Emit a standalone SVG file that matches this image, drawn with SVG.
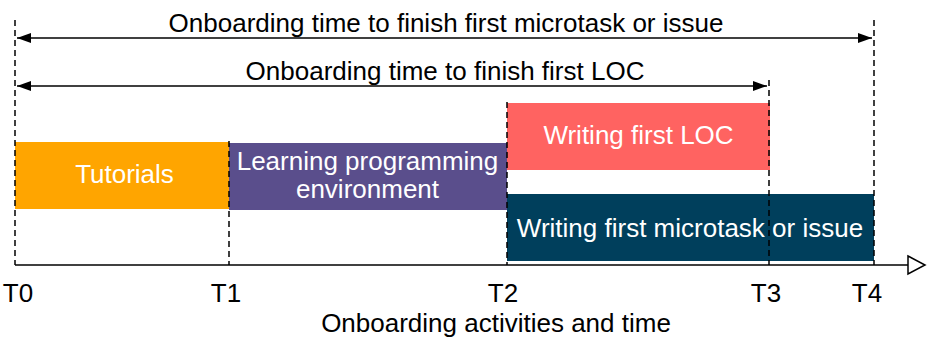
<svg xmlns="http://www.w3.org/2000/svg" width="927" height="338" viewBox="0 0 927 338">
<defs>
<marker id="ah" viewBox="0 0 14 10" refX="14" refY="5" markerWidth="14" markerHeight="10" markerUnits="userSpaceOnUse" orient="auto-start-reverse">
<path d="M0,0 L14,5 L0,10 Z" fill="#000"/>
</marker>
<style>
text{font-family:"Liberation Sans",Arial,sans-serif;font-size:26px;text-anchor:middle}
.w{fill:#fff}
.k{fill:#000}
.dash{stroke:#000;stroke-width:1.5;stroke-dasharray:6,4;fill:none}
.ln{stroke:#000;stroke-width:1.5;fill:none}
</style>
</defs>
<rect width="927" height="338" fill="#fff"/>
<g id="tutorials">
<rect x="15" y="142" width="214" height="67" fill="#FFA500"/>
<text class="w" x="124.5" y="183">Tutorials</text>
</g>
<g id="learning">
<rect x="229" y="143" width="278" height="67" fill="#5A4E8C"/>
<text class="w" x="367.5" y="170">Learning programming</text>
<text class="w" x="367.5" y="198">environment</text>
</g>
<g id="loc">
<rect x="507" y="103" width="263" height="67" fill="#FF6361"/>
<text class="w" x="638.5" y="144">Writing first LOC</text>
</g>
<g id="microtask">
<rect x="507" y="194" width="367" height="67" fill="#003F5C"/>
<text class="w" x="690" y="237">Writing first microtask or issue</text>
</g>
<g id="connectors">
<line class="dash" x1="15" y1="20" x2="15" y2="265"/>
<line class="dash" x1="229" y1="141" x2="229" y2="265"/>
<line class="dash" x1="507" y1="102" x2="507" y2="265"/>
<line class="dash" x1="769" y1="80" x2="769" y2="265"/>
<line class="dash" x1="874" y1="20" x2="874" y2="265"/>
<line class="ln" x1="17" y1="38" x2="872" y2="38" marker-start="url(#ah)" marker-end="url(#ah)"/>
<line class="ln" x1="17" y1="86" x2="767" y2="86" marker-start="url(#ah)" marker-end="url(#ah)"/>
<line class="ln" x1="15" y1="265" x2="908" y2="265"/>
<path d="M908,256 L925,265 L908,274 Z" fill="#fff" stroke="#000" stroke-width="1.5"/>
</g>
<g id="labels">
<text class="k" x="446" y="32">Onboarding time to finish first microtask or issue</text>
<text class="k" x="445" y="80">Onboarding time to finish first LOC</text>
<text class="k" x="18" y="302">T0</text>
<text class="k" x="226" y="302">T1</text>
<text class="k" x="503" y="302">T2</text>
<text class="k" x="766" y="302">T3</text>
<text class="k" x="867" y="302">T4</text>
<text class="k" x="496" y="332">Onboarding activities and time</text>
</g>
</svg>
